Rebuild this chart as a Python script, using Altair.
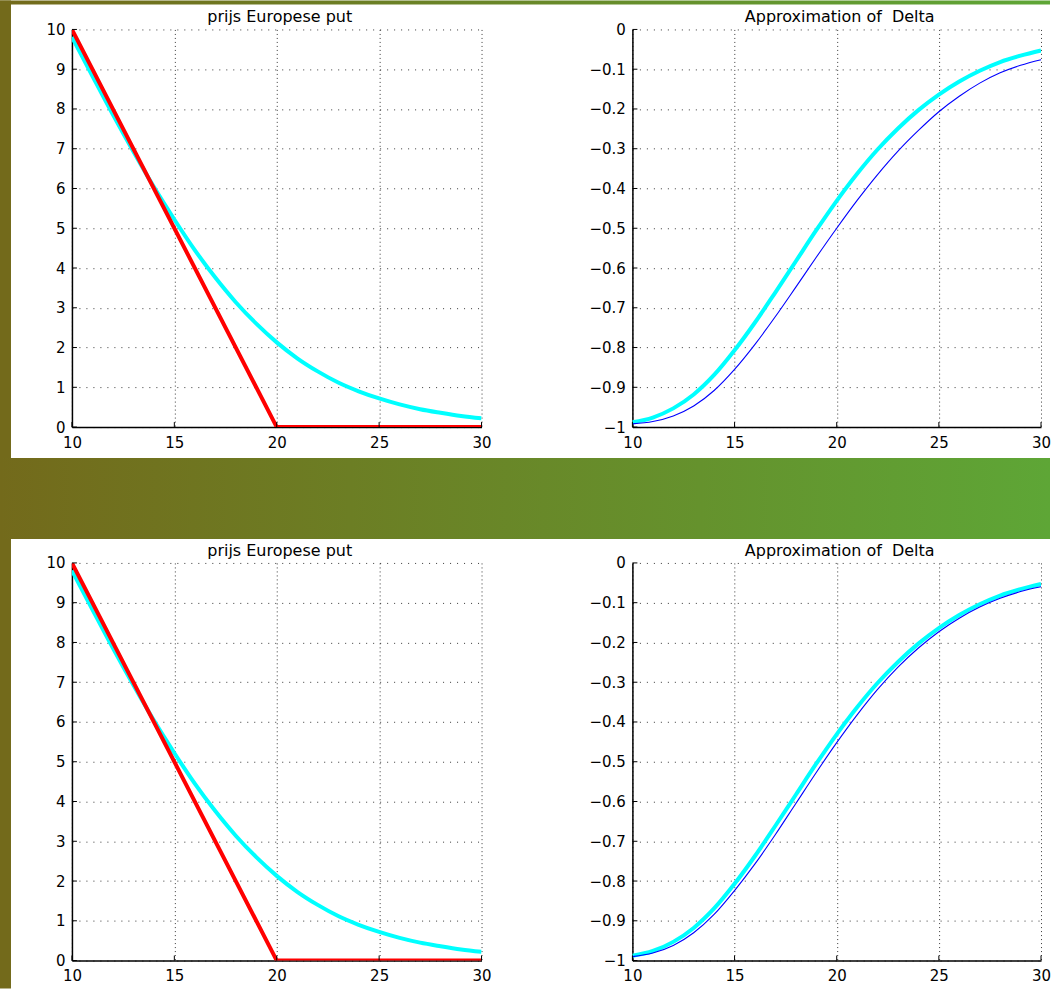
import altair as alt
import pandas as pd

# ---------------- data ----------------
S_GRID = [10, 11, 12, 13, 14, 15, 16, 17, 18, 19, 20,
          21, 22, 23, 24, 25, 26, 27, 28, 29, 30]

PUT_PRICE = [9.81, 8.83, 7.86, 6.93, 6.04, 5.22, 4.45, 3.76, 3.14, 2.60, 2.13,
             1.73, 1.40, 1.12, 0.90, 0.72, 0.57, 0.45, 0.36, 0.28, 0.22]

PAYOFF_S = [10, 20, 30]
PAYOFF_V = [10, 0, 0]

DELTA_CYAN = [-0.988, -0.976, -0.953, -0.918, -0.869, -0.807, -0.737, -0.661, -0.583, -0.505, -0.431,
              -0.363, -0.302, -0.249, -0.203, -0.164, -0.131, -0.104, -0.082, -0.066, -0.053]

DELTA_BLUE_TOP = [-0.992, -0.986, -0.972, -0.947, -0.908, -0.855, -0.792, -0.722, -0.648, -0.573, -0.500,
                  -0.430, -0.365, -0.306, -0.254, -0.207, -0.168, -0.135, -0.109, -0.090, -0.076]

DELTA_BLUE_BOTTOM = [-0.990, -0.981, -0.962, -0.930, -0.884, -0.824, -0.757, -0.683, -0.605, -0.527, -0.452,
                     -0.382, -0.318, -0.262, -0.214, -0.173, -0.139, -0.111, -0.089, -0.072, -0.060]

X_TICKS = [10, 15, 20, 25, 30]
Y_TICKS_PRICE = [0, 1, 2, 3, 4, 5, 6, 7, 8, 9, 10]
Y_TICKS_DELTA = [-1, -0.9, -0.8, -0.7, -0.6, -0.5, -0.4, -0.3, -0.2, -0.1, 0]

TITLE_PRICE = "prijs Europese put"
TITLE_DELTA = "Approximation of\u00a0 Delta"

# ---------------- styling ----------------
FONT = "DejaVu Sans"
WL, WR, H = 410, 409, 398
OLIVE = "#736a1b"
GREEN = "#5ea636"
GRAD = alt.Gradient(
    gradient="linear",
    stops=[alt.GradientStop(color=OLIVE, offset=0), alt.GradientStop(color=GREEN, offset=1)],
    x1=0, y1=0, x2=1, y2=0,
)
ONE = pd.DataFrame({"k": [0]})


def x_axis():
    return alt.Axis(values=X_TICKS, title=None, ticks=False, tickSize=0, labelFlush=False,
                    labelOverlap=False, labelPadding=8, labelFont=FONT, labelFontSize=15,
                    labelColor="black", domainColor="black", domainWidth=1.5, format="d",
                    grid=True, gridDash=[1, 3], gridColor="#222", gridWidth=1, gridOpacity=0.9)


def y_axis(vals, fmt):
    return alt.Axis(values=vals, title=None, ticks=False, tickSize=0, labelPadding=7, format=fmt,
                    labelFont=FONT, labelFontSize=15, labelColor="black", labelOverlap=False,
                    domainColor="black", domainWidth=1.5,
                    grid=True, gridDash=[1, 6], gridColor="#222", gridWidth=1, gridOpacity=0.9)


def title_text(text, w):
    return alt.Chart(ONE).mark_text(
        text=text, font=FONT, fontSize=16, color="black", align="center", baseline="alphabetic"
    ).encode(x=alt.value(w / 2 + 3), y=alt.value(-7))


def panel(y_vals, y_dom, fmt, w, series, title, deco):
    xs = alt.Scale(domain=[10, 30], nice=False, zero=False)
    ys = alt.Scale(domain=y_dom, nice=False)
    xa = x_axis()
    ya = y_axis(y_vals, fmt)
    layers = list(deco)
    for xv, yv, color, width, interp in series:
        layers.append(
            alt.Chart(pd.DataFrame({"S": xv, "v": yv})).mark_line(
                color=color, strokeWidth=width, interpolate=interp, clip=True
            ).encode(x=alt.X("S:Q", scale=xs, axis=xa),
                     y=alt.Y("v:Q", scale=ys, axis=ya))
        )
    # short inward ticks (MATLAB style) at the tick values
    layers.append(
        alt.Chart(pd.DataFrame({"S": X_TICKS})).mark_rule(color="black", strokeWidth=1).encode(
            x=alt.X("S:Q", scale=xs, axis=xa), y=alt.value(H), y2=alt.value(H - 5))
    )
    layers.append(
        alt.Chart(pd.DataFrame({"v": y_vals})).mark_rule(color="black", strokeWidth=1).encode(
            y=alt.Y("v:Q", scale=ys, axis=ya), x=alt.value(0), x2=alt.value(5))
    )
    layers.append(title_text(title, w))
    return alt.layer(*layers).properties(width=w, height=H)


# decorative slide background pieces (gradient bands and olive left border),
# in pixels relative to the top-left plot area of each row
def deco_top():
    top_strip = alt.Chart(ONE).mark_rect(color=GRAD, strokeWidth=0).encode(
        x=alt.value(-72), x2=alt.value(979), y=alt.value(-29), y2=alt.value(-25))
    band = alt.Chart(ONE).mark_rect(color=GRAD, strokeWidth=0).encode(
        x=alt.value(-72), x2=alt.value(979), y=alt.value(429), y2=alt.value(510))
    left = alt.Chart(ONE).mark_rect(color=OLIVE, strokeWidth=0).encode(
        x=alt.value(-72), x2=alt.value(-61), y=alt.value(-29), y2=alt.value(429))
    return [top_strip, band, left]


def deco_bottom():
    left = alt.Chart(ONE).mark_rect(color=OLIVE, strokeWidth=0).encode(
        x=alt.value(-72), x2=alt.value(-61), y=alt.value(-24), y2=alt.value(426))
    return [left]


def price_panel(deco):
    series = [
        (S_GRID, PUT_PRICE, "#00ffff", 4, "monotone"),
        (PAYOFF_S, PAYOFF_V, "#ff0000", 4, "linear"),
    ]
    return panel(Y_TICKS_PRICE, [0, 10], "d", WL, series, TITLE_PRICE, deco)


def delta_panel(blue_vals):
    series = [
        (S_GRID, DELTA_CYAN, "#00ffff", 4, "monotone"),
        (S_GRID, blue_vals, "#0000ff", 1.1, "monotone"),
    ]
    return panel(Y_TICKS_DELTA, [-1, 0], ".1~f", WR, series, TITLE_DELTA, [])


row1 = alt.hconcat(price_panel(deco_top()), delta_panel(DELTA_BLUE_TOP), spacing=151, bounds="flush")
row2 = alt.hconcat(price_panel(deco_bottom()), delta_panel(DELTA_BLUE_BOTTOM), spacing=151, bounds="flush")

chart = alt.vconcat(row1, row2, spacing=0).properties(
    background="white", padding=0
).configure_view(stroke=None)

chart.save("out.html", embed_options={"renderer": "svg", "actions": False})
